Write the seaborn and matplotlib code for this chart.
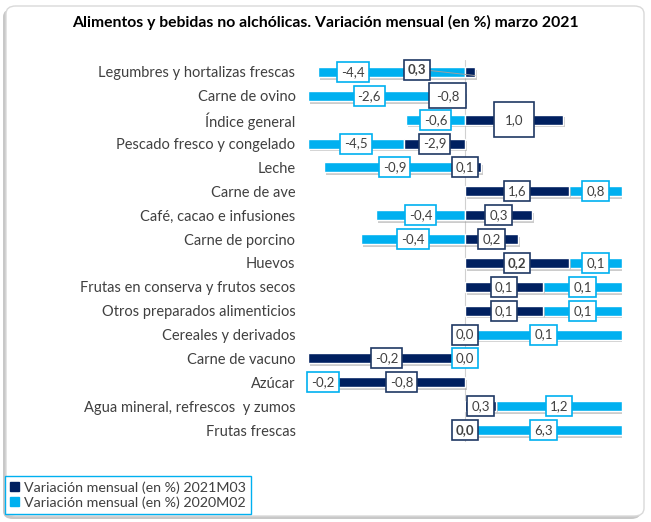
import matplotlib
matplotlib.use("Agg")
import matplotlib.pyplot as plt
import matplotlib.patheffects as pe
from matplotlib.patches import Patch, FancyBboxPatch
import numpy as np
import seaborn as sns

# Data (bar extents, labels as printed)
categories = ["Legumbres y hortalizas frescas", "Carne de ovino", "Índice general",
              "Pescado fresco y congelado", "Leche", "Carne de ave",
              "Café, cacao e infusiones", "Carne de porcino", "Huevos",
              "Frutas en conserva y frutos secos", "Otros preparados alimenticios",
              "Cereales y derivados", "Carne de vacuno", "Azúcar",
              "Agua mineral, refrescos  y zumos", "Frutas frescas"]
dark_vals = [0.32, -1.1, 3.12, -1.94, 0.51, 3.31, 2.13, 1.69, 3.31, 2.48, 2.48, 0.0, -5.0, -4.04, 0.99, 0.0]
light_vals = [-4.68, -3.9, -1.88, -3.06, -4.49, 1.69, -2.83, -3.31, 1.69, 2.52, 2.52, 5.0, 0.0, -0.96, 4.01, 5.0]
dark_labels = ["0,3", "-0,8", "1,0", "-2,9", "0,1", "1,6", "0,3", "0,2", "0,2", "0,1", "0,1", "0,0", "-0,2", "-0,8", "0,3", "0,0"]
light_labels = ["-4,4", "-2,6", "-0,6", "-4,5", "-0,9", "0,8", "-0,4", "-0,4", "0,1", "0,1", "0,1", "0,1", "0,0", "-0,2", "1,2", "6,3"]
bold_dark = [0, 8, 15]

NAVY = "#002060"
CYAN = "#00B0F0"
TXT = "#404040"

sns.set_theme(style="white")
plt.rcParams["font.family"] = ["Lato", "DejaVu Sans"]

fig = plt.figure(figsize=(6.51, 5.22), dpi=100)

# rounded frame with a soft shadow (drawn behind everything)
shadow_box = FancyBboxPatch((3 / 651, 3 / 522), 638 / 651, 510 / 522,
                            boxstyle="round,pad=0,rounding_size=0.015", transform=fig.transFigure,
                            fc="#c8c8c8", ec="none", zorder=-3)
frame = FancyBboxPatch((6 / 651, 6 / 522), 638 / 651, 510 / 522,
                       boxstyle="round,pad=0,rounding_size=0.015", transform=fig.transFigure,
                       fc="white", ec="#d9d9d9", lw=1, zorder=-2)
fig.patches.extend([shadow_box, frame])

ax = fig.add_axes([308 / 651, 1 - 442 / 522, 314 / 651, 382 / 522])
ax.patch.set_visible(False)

shadow = [pe.SimplePatchShadow(offset=(1.5, -2), shadow_rgbFace="#9a9a9a", alpha=0.5), pe.Normal()]

sns.barplot(x=dark_vals, y=categories, orient="h", color=NAVY, width=0.42,
            saturation=1, ax=ax, zorder=2)
dark = np.array(dark_vals)
light = np.array(light_vals)
left = np.where(np.sign(dark) == np.sign(light), dark, 0.0)
ypos = np.arange(len(categories))
ax.barh(ypos, light, left=left, height=0.42, color=CYAN, zorder=1)
for p in ax.patches:
    p.set_path_effects(shadow)

ax.axvline(0, color="#d0d0d0", lw=0.8, zorder=0.5)
ax.set_xlim(-5, 5)
ax.set_ylim(15.5, -0.5)
ax.set_xlabel("")
ax.set_ylabel("")
ax.set_xticks([])
ax.tick_params(axis="y", length=0, pad=9, labelsize=10.5, labelcolor=TXT)
sns.despine(ax=ax, left=True, bottom=True)

# value labels
shift = {("light", 0): -1.23, ("dark", 0): -1.69, ("dark", 4): -0.25}
for i in range(len(categories)):
    dx = dark[i] / 2 + shift.get(("dark", i), 0)
    lx = left[i] + light[i] / 2 + shift.get(("light", i), 0)
    ax.text(lx, i, light_labels[i], ha="center", va="center", fontsize=9.5, color=TXT, zorder=5,
            bbox=dict(boxstyle="square,pad=0.3", fc="white", ec=CYAN, lw=1.2))
    pad = 0.85 if i == 2 else (0.5 if i == 1 else 0.3)
    ax.text(dx, i - (0.1 if i == 0 else 0), dark_labels[i], ha="center", va="center", fontsize=9.5,
            color=TXT, fontweight="bold" if i in bold_dark else "normal", zorder=6,
            bbox=dict(boxstyle=f"square,pad={pad}", fc="white", ec="#1F3864", lw=1.2))
ax.plot([-1.4, 0.32], [-0.1, 0.15], color="#a0a0a0", lw=0.7, zorder=4)

fig.text(325 / 651, 1 - 22 / 522, "Alimentos y bebidas no alchólicas. Variación mensual (en %) marzo 2021",
         ha="center", va="center", fontsize=11.3, fontweight="bold", color="black")

fig.legend(handles=[Patch(color=NAVY), Patch(color=CYAN)],
           labels=["Variación mensual (en %) 2021M03", "Variación mensual (en %) 2020M02"],
           loc="lower left", bbox_to_anchor=(5 / 651, 8 / 522), fontsize=10.3, labelcolor=TXT,
           frameon=True, fancybox=False, edgecolor=CYAN, framealpha=1,
           handlelength=0.6, handleheight=0.6, handletextpad=0.4, borderpad=0.35,
           labelspacing=0.2, borderaxespad=0)

fig.savefig("out.png", dpi=100)
